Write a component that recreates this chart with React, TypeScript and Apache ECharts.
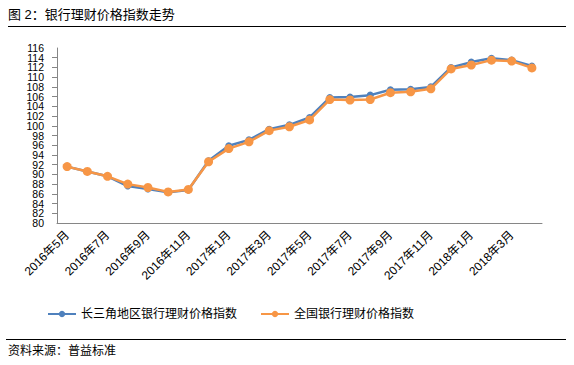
import React, { useEffect, useRef } from "react";
import * as echarts from "echarts";

const months: string[] = [
  "2016年5月", "2016年6月", "2016年7月", "2016年8月", "2016年9月", "2016年10月",
  "2016年11月", "2016年12月", "2017年1月", "2017年2月", "2017年3月", "2017年4月",
  "2017年5月", "2017年6月", "2017年7月", "2017年8月", "2017年9月", "2017年10月",
  "2017年11月", "2017年12月", "2018年1月", "2018年2月", "2018年3月", "2018年4月",
];

const yangtzeDelta: number[] = [
  91.6, 90.6, 89.6, 87.6, 87.0, 86.3, 86.8, 92.8, 95.9, 97.1, 99.3, 100.2,
  101.7, 105.8, 105.9, 106.3, 107.4, 107.5, 108.0, 112.0, 113.1, 113.9, 113.5, 112.3,
];

const national: number[] = [
  91.6, 90.6, 89.6, 88.0, 87.3, 86.4, 86.9, 92.6, 95.3, 96.7, 99.0, 99.8,
  101.2, 105.4, 105.3, 105.4, 106.8, 107.0, 107.6, 111.7, 112.5, 113.5, 113.3, 111.9,
];

const seriesNames: string[] = ["长三角地区银行理财价格指数", "全国银行理财价格指数"];

const Y_MIN = 80;
const Y_MAX = 116;
const Y_STEP = 2;

const FONT = "'Liberation Sans', 'Noto Sans CJK SC', sans-serif";

export default function App() {
  const ref = useRef<HTMLDivElement>(null);
  useEffect(() => {
    if (!ref.current) return;
    const chart = echarts.init(ref.current, undefined, { renderer: "svg" });
    const yLabelStyle = { fontSize: 10.5, color: "#000", margin: 13, fontFamily: FONT };
    chart.setOption({
      animation: false,
      backgroundColor: "#ffffff",
      textStyle: { fontFamily: FONT },
      graphic: [
        {
          type: "text",
          left: 8,
          top: 8,
          style: { text: "图 2：银行理财价格指数走势", fontSize: 13, fill: "#000", fontFamily: FONT },
        },
        {
          type: "line",
          shape: { x1: 8, y1: 26.5, x2: 566, y2: 26.5 },
          style: { stroke: "#000", lineWidth: 1 },
        },
        {
          type: "line",
          shape: { x1: 6, y1: 339.5, x2: 566, y2: 339.5 },
          style: { stroke: "#000", lineWidth: 1 },
        },
        {
          type: "text",
          left: 8,
          top: 345,
          style: { text: "资料来源：普益标准", fontSize: 12, fill: "#000", fontFamily: FONT },
        },
      ],
      legend: {
        left: 42,
        top: 303,
        itemWidth: 28,
        itemHeight: 8,
        itemGap: 23,
        textStyle: { fontSize: 12, color: "#000", fontFamily: FONT },
        data: seriesNames,
      },
      grid: { left: 57, right: 32, top: 48, bottom: 142, containLabel: false },
      xAxis: {
        type: "category",
        data: months,
        boundaryGap: true,
        axisLine: { lineStyle: { color: "#868686", width: 1 } },
        axisTick: { interval: 1, length: 5, lineStyle: { color: "#868686" } },
        axisLabel: {
          interval: 1,
          rotate: 45,
          fontSize: 12,
          color: "#000",
          margin: 10,
          fontFamily: FONT,
        },
      },
      yAxis: [
        {
          type: "value",
          min: Y_MIN,
          max: Y_MAX,
          interval: Y_STEP,
          splitLine: { show: false },
          axisLine: { show: true, lineStyle: { color: "#868686", width: 1 } },
          axisTick: { show: true, length: 5, lineStyle: { color: "#868686" } },
          axisLabel: { ...yLabelStyle, showMinLabel: false, showMaxLabel: false, hideOverlap: false },
        },
        {
          type: "value",
          position: "left",
          min: Y_MIN,
          max: Y_MAX,
          interval: Y_STEP,
          splitLine: { show: false },
          axisLine: { show: false },
          axisTick: { show: false },
          axisLabel: {
            ...yLabelStyle,
            showMinLabel: true,
            showMaxLabel: true,
            formatter: (v: number) => (v === Y_MIN || v === Y_MAX ? String(v) : ""),
          },
        },
      ],
      series: [
        {
          name: seriesNames[0],
          type: "line",
          yAxisIndex: 0,
          data: yangtzeDelta,
          symbol: "circle",
          symbolSize: 7,
          color: "#4F81BD",
          lineStyle: { width: 2.5, color: "#4F81BD" },
          itemStyle: { color: "#4F81BD" },
          z: 2,
        },
        {
          name: seriesNames[1],
          type: "line",
          yAxisIndex: 0,
          data: national,
          symbol: "circle",
          symbolSize: 9,
          color: "#F79646",
          lineStyle: { width: 2.5, color: "#F79646" },
          itemStyle: { color: "#F79646" },
          z: 3,
        },
      ],
    });
    return () => chart.dispose();
  }, []);
  return (
    <div
      ref={ref}
      style={{ position: "fixed", left: 0, top: 0, width: 574, height: 365, background: "#fff" }}
    />
  );
}
